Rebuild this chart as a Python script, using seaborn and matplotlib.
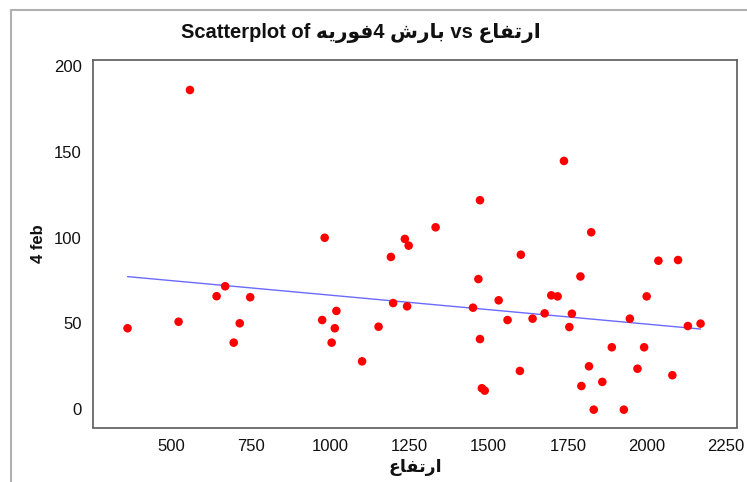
import numpy as np
import pandas as pd
import matplotlib
matplotlib.use("Agg")
import matplotlib.pyplot as plt
from matplotlib.lines import Line2D
import seaborn as sns

# ---- data ----
altitude = [361, 522, 558, 642, 669, 696, 715, 748, 975, 983, 1005, 1015, 1020,
            1101, 1153, 1192, 1199, 1236, 1243, 1248,
            1333, 1451, 1468, 1473, 1473, 1479, 1488, 1532, 1560, 1599, 1602,
            1639, 1677, 1698, 1718, 1738, 1755, 1763, 1790, 1793, 1817, 1824,
            1832, 1859, 1889, 1927, 1946, 1970, 1991, 1999, 2036, 2080, 2098,
            2129, 2169]
rain_4feb = [47.1, 50.9, 186.1, 65.8, 71.6, 38.7, 50.0, 65.2, 51.9, 99.9, 38.7, 47.1, 57.2,
             27.8, 48.0, 88.7, 61.8, 99.2, 59.9, 95.3,
             106.0, 59.1, 75.8, 121.8, 40.8, 12.1, 10.7, 63.4, 51.9, 22.2, 90.0,
             52.7, 55.8, 66.3, 65.7, 144.7, 47.8, 55.6, 77.3, 13.4, 24.9, 103.1,
             -0.4, 15.8, 36.0, -0.4, 52.7, 23.5, 36.0, 65.7, 86.5, 19.7, 86.9,
             48.4, 49.8]
x_ticks = [500, 750, 1000, 1250, 1500, 1750, 2000, 2250]
y_ticks = [0, 50, 100, 150, 200]

# Persian labels (visual order, presentation forms so they render joined)
lbl_altitude = "\uFEC9\uFE8E\uFED4\uFE97\uFEAD\uFE8D"          # ارتفاع
lbl_rain = "\uFEB5\uFEAD\uFE8E\uFE91"                           # بارش
lbl_feb = "\uFEEA\uFBFE\uFEAD\uFEEE\uFED3"                      # فوریه
title_text = "Scatterplot of " + lbl_feb + "4 " + lbl_rain + " vs " + lbl_altitude
y_label = "4 feb"

df = pd.DataFrame({"alt": altitude, "rain": rain_4feb})

sns.set_theme(style="white")
plt.rcParams["font.family"] = ["Liberation Sans", "DejaVu Sans"]

fig = plt.figure(figsize=(7.47, 4.82), dpi=100)
ax = fig.add_axes([93 / 747, 1 - 427.5 / 482, (737 - 93) / 747, (427.5 - 60) / 482])

sns.regplot(data=df, x="alt", y="rain", scatter=False, ci=None, truncate=True,
            line_kws=dict(color="#6a6aff", lw=1.0), ax=ax)
sns.scatterplot(data=df, x="alt", y="rain", color="#ff0000", s=38,
                edgecolor="none", linewidth=0, ax=ax, zorder=3)

ax.set_xlim(252, 2284)
ax.set_ylim(-10.8, 203.6)
ax.set_xticks(x_ticks)
ax.set_yticks(y_ticks)
ax.tick_params(axis="both", direction="out", length=4, width=1.0, color="#555555",
               labelsize=12, labelcolor="#111111", pad=4)
for sp in ax.spines.values():
    sp.set_color("#5a5a5a")
    sp.set_linewidth(1.2)

ax.set_xlabel(lbl_altitude, fontsize=12.5, fontweight="bold", color="#111111",
              family=["DejaVu Sans"], labelpad=3)
ax.set_ylabel(y_label, fontsize=12, fontweight="bold", color="#111111", labelpad=6)

fig.text(361 / 747, 1 - 33 / 482, title_text, ha="center", va="center", color="#111111",
         fontsize=14.5, fontweight="bold", family=["Liberation Sans", "DejaVu Sans"])

# outer frame lines of the graph window
fig.add_artist(Line2D([11 / 747, 1.0], [1 - 10 / 482, 1 - 10 / 482],
                      transform=fig.transFigure, color="#b0b0b0", lw=1.5))
fig.add_artist(Line2D([11 / 747, 11 / 747], [0.0, 1 - 10 / 482],
                      transform=fig.transFigure, color="#b0b0b0", lw=1.5))

fig.savefig("out.png", dpi=100)
